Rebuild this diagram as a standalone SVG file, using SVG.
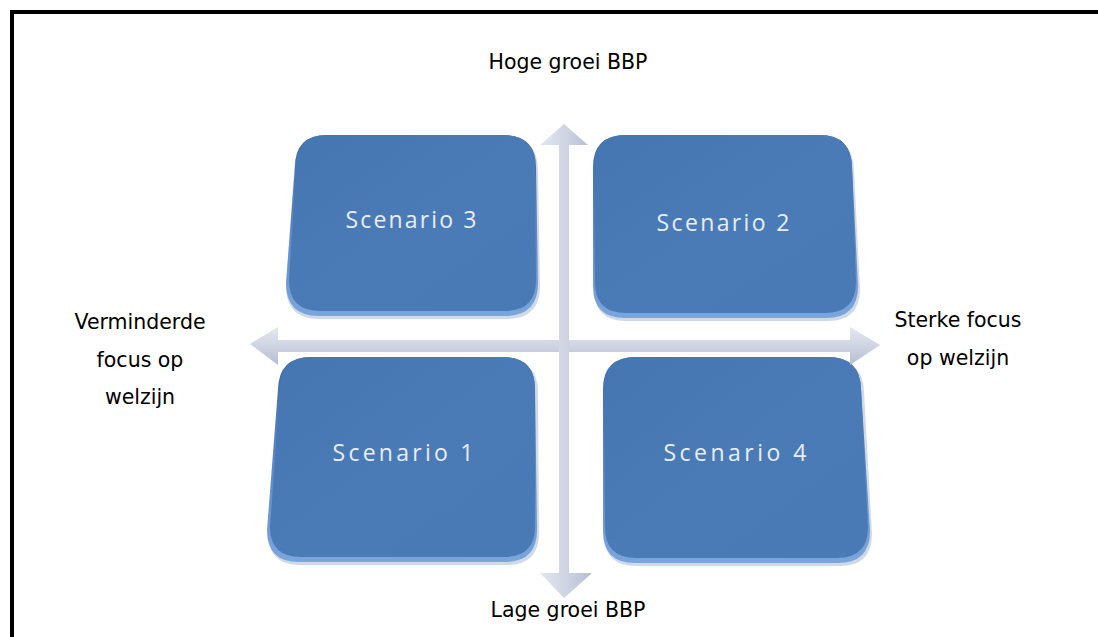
<svg xmlns="http://www.w3.org/2000/svg" width="1098" height="637" viewBox="0 0 1098 637">
<defs>
<linearGradient id="boxg" x1="0" y1="0" x2="1" y2="1">
<stop offset="0" stop-color="#4676b2"/>
<stop offset="0.5" stop-color="#4b7bb7"/>
<stop offset="1" stop-color="#4a7ab6"/>
</linearGradient>
<linearGradient id="rim" x1="0" y1="0" x2="0" y2="1">
<stop offset="0" stop-color="#3c6aa6"/>
<stop offset="1" stop-color="#7aa6dc"/>
</linearGradient>
<linearGradient id="arrV" x1="0" y1="0" x2="1" y2="0">
<stop offset="0" stop-color="#e3e7f0"/>
<stop offset="0.5" stop-color="#cfd4e3"/>
<stop offset="1" stop-color="#b7bdd0"/>
</linearGradient>
<linearGradient id="arrH" x1="0" y1="0" x2="0" y2="1">
<stop offset="0" stop-color="#e3e7f0"/>
<stop offset="0.5" stop-color="#cfd4e3"/>
<stop offset="1" stop-color="#b7bdd0"/>
</linearGradient>
</defs>
<style>
.frame{fill:none;stroke:#000;stroke-width:4}
.shadow{fill:#9fb3cf;opacity:0.5}
.rimc{fill:url(#rim)}
.box{fill:url(#boxg)}
.st{font-family:"Open Sans","Liberation Sans",sans-serif;font-size:23px;fill:#e8eef7;text-anchor:middle}
.lbl{font-family:"DejaVu Sans","Liberation Sans",sans-serif;font-size:20.5px;fill:#000;text-anchor:middle}
</style>
<rect width="1098" height="637" fill="#fff"/>
<rect class="frame" x="12" y="12" width="1100" height="640"/>

<g id="scenario3">
<path class="shadow" d="M 327,138 H 505 Q 538,138 538,170 L 540,286 Q 540,319 507,319 H 319 Q 286,319 286,286 L 294,170 Q 295,138 327,138 Z"/>
<path class="rimc" d="M 327,135 H 503 Q 536,135 536,167 L 538,283 Q 538,316 505,316 H 319 Q 286,316 286,283 L 295,167 Q 295,135 327,135 Z"/>
<path class="box" d="M 327,135 H 503 Q 535,135 535,167 L 536,280 Q 536,311 505,311 H 320 Q 289,311 289,280 L 296,167 Q 296,135 327,135 Z"/>
<text class="st" x="411" y="228" textLength="131">Scenario 3</text>
</g>

<g id="scenario2">
<path class="shadow" d="M 626,138 H 823 Q 853,138 854,170 L 860,289 Q 860,321 828,321 H 626 Q 594,321 594,289 L 594,170 Q 594,138 626,138 Z"/>
<path class="rimc" d="M 626,135 H 820 Q 851,135 852,167 L 858,286 Q 858,318 826,318 H 625 Q 593,318 593,286 L 593,167 Q 593,135 626,135 Z"/>
<path class="box" d="M 626,135 H 820 Q 851,135 852,167 L 856,282 Q 856,313 825,313 H 626 Q 595,313 595,282 L 594,167 Q 594,135 626,135 Z"/>
<text class="st" x="723" y="231" textLength="133">Scenario 2</text>
</g>

<g id="scenario1">
<path class="shadow" d="M 311,360 H 506 Q 538,360 538,392 L 539,533 Q 539,565 507,565 H 300 Q 268,565 268,533 L 279,392 Q 280,360 311,360 Z"/>
<path class="rimc" d="M 311,357 H 503 Q 535,357 535,389 L 537,530 Q 537,562 505,562 H 299 Q 267,562 267,530 L 278,389 Q 279,357 311,357 Z"/>
<path class="box" d="M 311,357 H 503 Q 535,357 535,389 L 535,527 Q 535,557 504,557 H 301 Q 270,557 270,527 L 280,389 Q 281,357 311,357 Z"/>
<text class="st" x="403" y="461" textLength="141">Scenario 1</text>
</g>

<g id="scenario4">
<path class="shadow" d="M 636,360 H 831 Q 863,360 864,392 L 872,534 Q 872,566 840,566 H 636 Q 604,566 604,534 L 604,392 Q 604,360 636,360 Z"/>
<path class="rimc" d="M 636,357 H 828 Q 860,357 861,389 L 870,531 Q 870,563 838,563 H 635 Q 603,563 603,531 L 603,389 Q 603,357 636,357 Z"/>
<path class="box" d="M 636,357 H 828 Q 860,357 861,389 L 868,527 Q 868,558 837,558 H 636 Q 605,558 605,527 L 604,389 Q 604,357 636,357 Z"/>
<text class="st" x="735" y="461" textLength="143">Scenario 4</text>
</g>

<g id="connectors">
<path fill="url(#arrH)" d="M 250,344 L 278,327 L 278,340 L 850,340 L 850,327 L 880,345 L 850,365 L 850,352 L 278,352 L 278,365 Z"/>
<path fill="url(#arrV)" d="M 564,124 L 588,145 L 569,145 L 569,573 L 592,573 L 564,598 L 540,573 L 559,573 L 559,145 L 540,145 Z"/>
</g>

<g id="labels">
<text class="lbl" x="568" y="69">Hoge groei BBP</text>
<text class="lbl" x="568" y="617">Lage groei BBP</text>
<text class="lbl" x="140" y="329">Verminderde</text>
<text class="lbl" x="140" y="367">focus op</text>
<text class="lbl" x="140" y="404">welzijn</text>
<text class="lbl" x="958" y="327">Sterke focus</text>
<text class="lbl" x="958" y="365">op welzijn</text>
</g>
</svg>
